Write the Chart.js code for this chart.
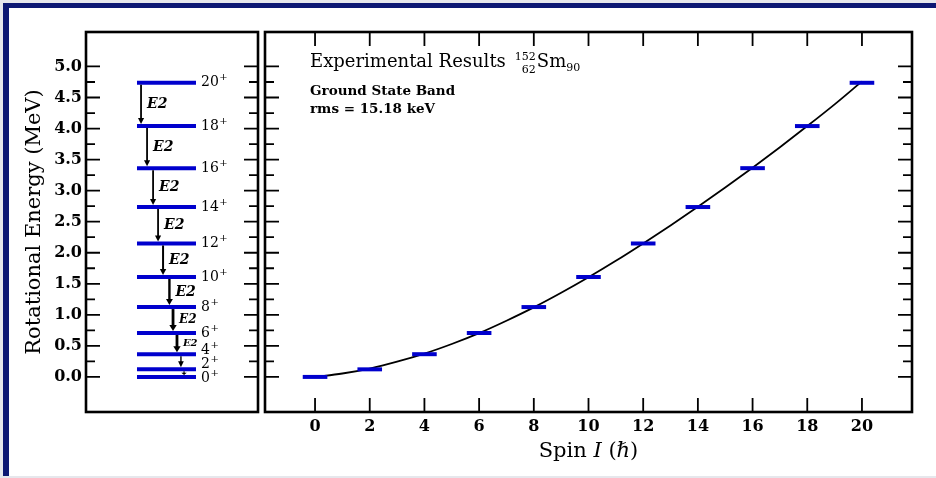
<!DOCTYPE html>
<html>
<head>
<meta charset="utf-8">
<script src="https://cdn.jsdelivr.net/npm/chart.js@4.4.1/dist/chart.umd.min.js"></script>
<style>
  html, body { margin: 0; padding: 0; }
  body { width: 936px; height: 478px; background: #e6e7ec; position: relative; overflow: hidden; }
  #frame { position: absolute; left: 3px; top: 3px; width: 927px; height: 468px; background: #fff;
           border-left: 6px solid #0d1873; border-top: 5px solid #0d1873; }
  canvas { position: absolute; top: 0; }
  #levels { left: 0; }
  #main { left: 262px; }
</style>
</head>
<body>
<div id="frame"></div>
<canvas id="levels" width="262" height="478"></canvas>
<canvas id="main" width="674" height="478"></canvas>
<script>
const BLUE = "#0000cd";
const SERIF = '"DejaVu Serif", serif';

// ground state band of 152Sm
const spins = [0, 2, 4, 6, 8, 10, 12, 14, 16, 18, 20];
const parity = ["+", "+", "+", "+", "+", "+", "+", "+", "+", "+", "+"];
const levelEnergy = [0, 0.122, 0.366, 0.707, 1.125, 1.609, 2.149, 2.736, 3.362, 4.040, 4.737];

// fitted curve
const fitSpin = [0, 1, 2, 3, 4, 5, 6, 7, 8, 9, 10, 11, 12, 13, 14, 15, 16, 17, 18, 19, 20];
const fitEnergy = [0, 0.055, 0.135, 0.245, 0.375, 0.53, 0.705, 0.905, 1.12, 1.355, 1.605,
  1.87, 2.15, 2.44, 2.74, 3.05, 3.37, 3.70, 4.04, 4.39, 4.76];

// transitions, lowest first (2->0 ... 20->18)
const transitionLabel = ["", "", "E2", "E2", "E2", "E2", "E2", "E2", "E2", "E2"];
const transitionX = [57, 55.2, 52.9, 50.6, 48.5, 44.8, 41.9, 39, 35.5, 32];
const transitionWidth = [1.2, 1.4, 2.8, 2.8, 2.4, 2, 1.8, 1.8, 1.8, 1.8];
const e2Size = [0, 0, 10, 12, 14, 14, 14, 14, 14, 14];
const labelShift = [1.5, -5, -4, 0, 0, 0, 0, 0, 0, 0, 0];

const yMajorTicks = [0, 0.5, 1, 1.5, 2, 2.5, 3, 3.5, 4, 4.5, 5];
const yMinorTicks = [0.25, 0.75, 1.25, 1.75, 2.25, 2.75, 3.25, 3.75, 4.25, 4.75];
const xTicks = spins;
const yRange = [-0.565, 5.555];
const xRange = [-1.83, 21.83];
const levelCenter = 46.8;

const framePlugin = {
  id: "frame",
  afterDraw(chart, args, opts) {
    const { ctx, chartArea: a, scales } = chart;
    ctx.save();
    ctx.strokeStyle = "#000";
    ctx.lineWidth = 1.8;
    ctx.beginPath();
    const yTick = (vals, len) => vals.forEach((v) => {
      const py = scales.y.getPixelForValue(v);
      ctx.moveTo(a.left, py); ctx.lineTo(a.left + len, py);
      ctx.moveTo(a.right, py); ctx.lineTo(a.right - len, py);
    });
    yTick(yMajorTicks, 14);
    yTick(yMinorTicks, 9);
    (opts.xTicks || []).forEach((v) => {
      const px = scales.x.getPixelForValue(v);
      ctx.moveTo(px, a.top); ctx.lineTo(px, a.top + 14);
      ctx.moveTo(px, a.bottom); ctx.lineTo(px, a.bottom - 14);
    });
    ctx.stroke();
    ctx.lineWidth = 2.6;
    ctx.strokeRect(a.left, a.top, a.right - a.left, a.bottom - a.top);
    ctx.restore();
  },
};

const schemePlugin = {
  id: "scheme",
  afterDatasetsDraw(chart) {
    const { ctx, scales: { x, y } } = chart;
    ctx.save();
    ctx.fillStyle = "#000";
    ctx.strokeStyle = "#000";
    // level labels, spin with raised parity sign
    ctx.textBaseline = "middle";
    ctx.textAlign = "left";
    const right = x.getPixelForValue(levelCenter) + 29.5;
    spins.forEach((s, i) => {
      const py = y.getPixelForValue(levelEnergy[i]) + labelShift[i];
      ctx.font = "14px " + SERIF;
      ctx.fillText(String(s), right + 5, py);
      const w = ctx.measureText(String(s)).width;
      ctx.font = "10px " + SERIF;
      ctx.fillText(parity[i], right + 5 + w + 0.5, py - 5);
    });
    // arrows
    transitionX.forEach((tx, i) => {
      const px = x.getPixelForValue(tx);
      const y0 = y.getPixelForValue(levelEnergy[i + 1]) + 2;
      const y1 = y.getPixelForValue(levelEnergy[i]) - 2;
      const head = Math.min(6, (y1 - y0) * 0.6);
      const hw = 2 + transitionWidth[i] * 0.6;
      ctx.lineWidth = transitionWidth[i];
      ctx.beginPath();
      ctx.moveTo(px, y0); ctx.lineTo(px, y1 - head + 1);
      ctx.stroke();
      ctx.beginPath();
      ctx.moveTo(px - hw, y1 - head); ctx.lineTo(px + hw, y1 - head); ctx.lineTo(px, y1);
      ctx.closePath(); ctx.fill();
      if (transitionLabel[i]) {
        ctx.font = "italic bold " + e2Size[i] + "px " + SERIF;
        ctx.fillText(transitionLabel[i], px + 6, (y0 + y1) / 2);
      }
    });
    ctx.restore();
  },
};

const textPlugin = {
  id: "texts",
  afterDraw(chart) {
    const { ctx, chartArea: a } = chart;
    ctx.save();
    ctx.fillStyle = "#000";
    ctx.textBaseline = "alphabetic";
    ctx.textAlign = "left";
    let x0 = a.left + 45, base = a.top + 35;
    ctx.font = "18px " + SERIF;
    ctx.fillText("Experimental Results", x0, base);
    x0 += ctx.measureText("Experimental Results").width + 9;
    ctx.font = "11px " + SERIF;
    const w = Math.max(ctx.measureText("152").width, ctx.measureText("62").width);
    ctx.textAlign = "right";
    ctx.fillText("152", x0 + w, base - 7);
    ctx.fillText("62", x0 + w, base + 6);
    ctx.textAlign = "left";
    x0 += w + 1;
    ctx.font = "18px " + SERIF;
    ctx.fillText("Sm", x0, base);
    x0 += ctx.measureText("Sm").width;
    ctx.font = "11px " + SERIF;
    ctx.fillText("90", x0, base + 4);

    ctx.font = "bold 13.5px " + SERIF;
    ctx.fillText("Ground State Band", a.left + 45, a.top + 63);
    ctx.fillText("rms = 15.18 keV", a.left + 45, a.top + 81);

    // axis title with italic symbol
    const parts = [["Spin ", ""], ["I", "italic "], [" (", ""], ["ℏ", "italic "], [")", ""]];
    let total = 0;
    parts.forEach(([t, s]) => { ctx.font = s + "21px " + SERIF; total += ctx.measureText(t).width; });
    let px = (a.left + a.right) / 2 - total / 2;
    parts.forEach(([t, s]) => {
      ctx.font = s + "21px " + SERIF;
      ctx.fillText(t, px, 457);
      px += ctx.measureText(t).width;
    });
    ctx.restore();
  },
};

const tickFont = { family: SERIF, size: 16, weight: "bold" };

new Chart(document.getElementById("levels"), {
  type: "scatter",
  data: {
    datasets: [{
      data: levelEnergy.map((e) => ({ x: levelCenter, y: e })),
      pointStyle: "line",
      pointRadius: 29.5,
      pointBorderWidth: 4,
      pointBorderColor: BLUE,
      pointHoverRadius: 29.5,
    }],
  },
  options: {
    responsive: false,
    animation: false,
    events: [],
    layout: { autoPadding: false, padding: { top: 32, bottom: 66, left: 0, right: 4 } },
    plugins: { legend: { display: false }, tooltip: { enabled: false }, frame: {} },
    scales: {
      x: { type: "linear", min: 0, max: 100, display: false },
      y: {
        min: yRange[0], max: yRange[1],
        afterBuildTicks: (s) => { s.ticks = yMajorTicks.map((v) => ({ value: v })); },
        afterFit: (s) => { s.width = 86; },
        ticks: { font: tickFont, color: "#000", padding: 4, callback: (v) => v.toFixed(1) },
        grid: { display: false, drawTicks: false },
        border: { display: false },
        title: { display: true, text: "Rotational Energy (MeV)", color: "#000",
                 font: { family: SERIF, size: 21 }, padding: { top: 22, bottom: 0 } },
      },
    },
  },
  plugins: [framePlugin, schemePlugin],
});

new Chart(document.getElementById("main"), {
  type: "scatter",
  data: {
    datasets: [
      {
        label: "Experiment",
        data: spins.map((s, i) => ({ x: s, y: levelEnergy[i] })),
        pointStyle: "line",
        pointRadius: 12.3,
        pointHoverRadius: 12.3,
        pointBorderWidth: 4,
        pointBorderColor: BLUE,
      },
      {
        label: "Fit",
        data: fitSpin.map((s, i) => ({ x: s, y: fitEnergy[i] })),
        showLine: true,
        borderColor: "#000",
        borderWidth: 1.8,
        pointRadius: 0,
        cubicInterpolationMode: "monotone",
      },
    ],
  },
  options: {
    responsive: false,
    animation: false,
    events: [],
    layout: { autoPadding: false, padding: { top: 32, bottom: 0, left: 3, right: 24 } },
    plugins: { legend: { display: false }, tooltip: { enabled: false }, frame: { xTicks } },
    scales: {
      x: {
        type: "linear", min: xRange[0], max: xRange[1],
        afterBuildTicks: (s) => { s.ticks = xTicks.map((v) => ({ value: v })); },
        afterFit: (s) => { s.height = 66; },
        ticks: { font: tickFont, color: "#000", padding: 5 },
        grid: { display: false, drawTicks: false },
        border: { display: false },
      },
      y: { min: yRange[0], max: yRange[1], display: false },
    },
  },
  plugins: [framePlugin, textPlugin],
});
</script>
</body>
</html>
